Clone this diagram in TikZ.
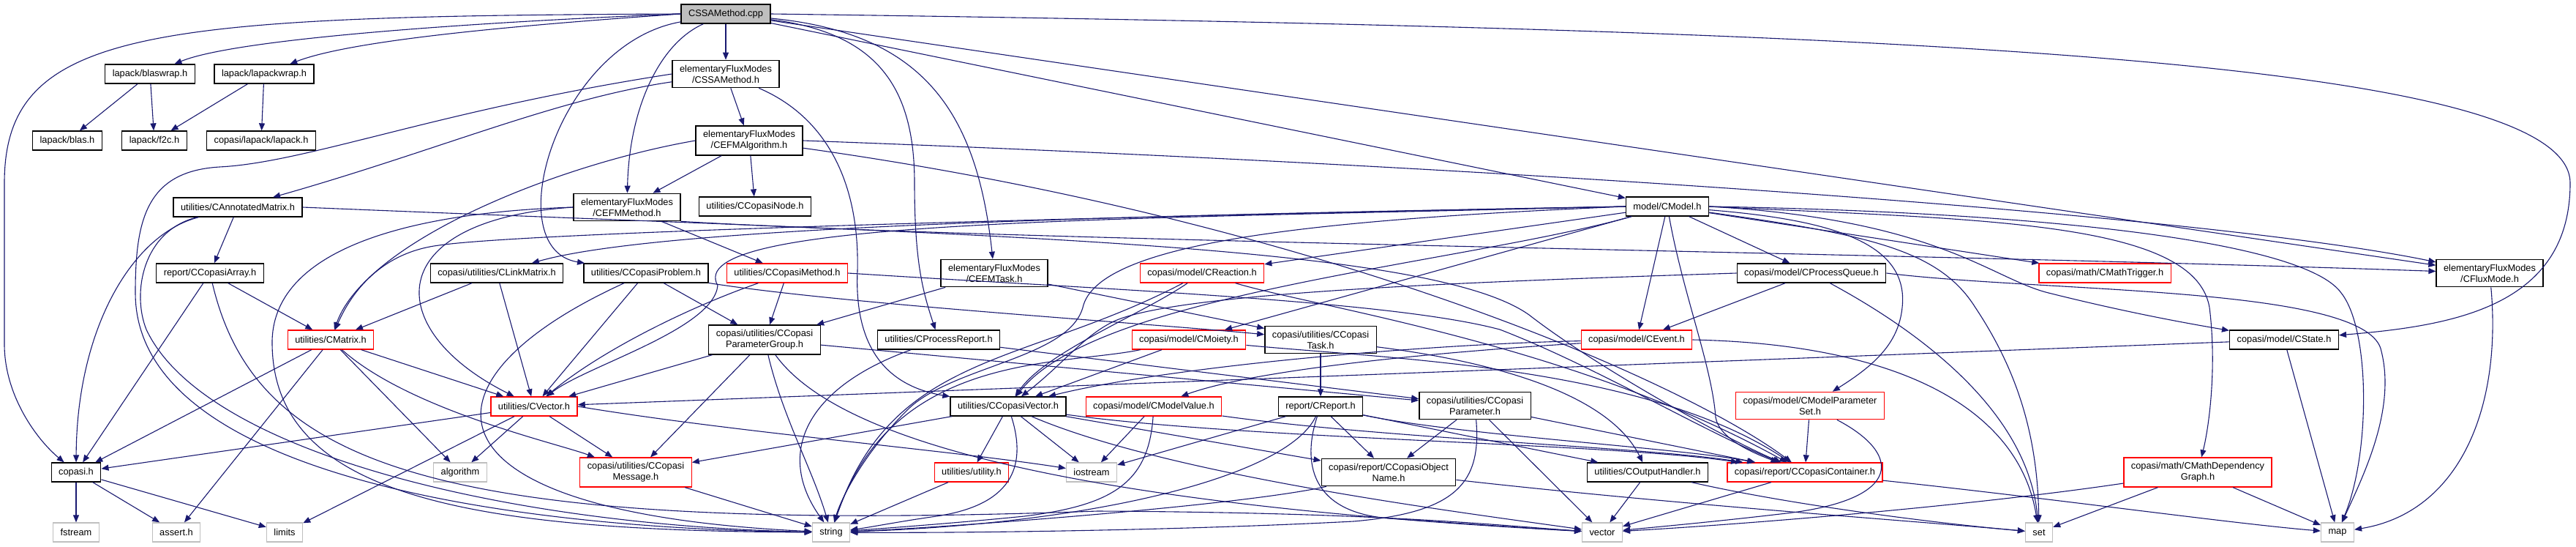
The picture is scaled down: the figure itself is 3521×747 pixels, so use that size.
\documentclass[tikz,border=0pt]{standalone}
\usepackage{fontspec}
\newfontfamily\graphfont{Liberation Sans}
\usepackage{tikz}
\usetikzlibrary{arrows.meta}
\definecolor{edgeblue}{HTML}{191970}
\definecolor{sysgray}{HTML}{BFBFBF}

\begin{document}
\begin{tikzpicture}[
    x=1pt, y=-1pt,
    hdr/.style={rectangle, draw=black, line width=1.3pt, fill=white, inner xsep=10pt, inner ysep=6.5pt, minimum height=26pt, align=center, font=\graphfont\fontsize{12.8pt}{15pt}\selectfont},
    trunc/.style={hdr, draw=red},
    sys/.style={hdr, draw=sysgray},
    root/.style={hdr, fill=sysgray},
    dep/.style={-{Triangle[length=10pt, width=8pt]}, draw=edgeblue, line width=1.1pt}
]
\useasboundingbox (0,0) rectangle (3521,747);

\node[root] (cpp) at (992,19) {CSSAMethod.cpp};
\node[hdr] (blaswrap) at (205,101) {lapack/blaswrap.h};
\node[hdr] (lapackwrap) at (361,101) {lapack/lapackwrap.h};
\node[hdr] (ssah) at (992,101) {elementaryFluxModes\\/CSSAMethod.h};
\node[hdr] (blas) at (92,192) {lapack/blas.h};
\node[hdr] (f2c) at (211,192) {lapack/f2c.h};
\node[hdr] (lapack) at (357,192) {copasi/lapack/lapack.h};
\node[hdr] (efmalg) at (1024,192) {elementaryFluxModes\\/CEFMAlgorithm.h};
\node[hdr] (annot) at (325,283) {utilities/CAnnotatedMatrix.h};
\node[hdr] (efmmethod) at (857,283) {elementaryFluxModes\\/CEFMMethod.h};
\node[hdr] (cnode) at (1032,282) {utilities/CCopasiNode.h};
\node[hdr] (cmodel) at (2279,282) {model/CModel.h};
\node[hdr] (carray) at (287,373) {report/CCopasiArray.h};
\node[hdr] (linkmat) at (679,373) {copasi/utilities/CLinkMatrix.h};
\node[hdr] (cproblem) at (883,373) {utilities/CCopasiProblem.h};
\node[trunc] (cmethod) at (1076,373) {utilities/CCopasiMethod.h};
\node[hdr] (efmtask) at (1359,373) {elementaryFluxModes\\/CEFMTask.h};
\node[trunc] (creaction) at (1643,373) {copasi/model/CReaction.h};
\node[hdr] (pqueue) at (2476,373) {copasi/model/CProcessQueue.h};
\node[trunc] (mtrigger) at (2877,373) {copasi/math/CMathTrigger.h};
\node[hdr] (fluxmode) at (3403,373) {elementaryFluxModes\\/CFluxMode.h};
\node[trunc] (cmatrix) at (452,464) {utilities/CMatrix.h};
\node[hdr] (pgroup) at (1045,464) {copasi/utilities/CCopasi\\ParameterGroup.h};
\node[hdr] (preport) at (1283,464) {utilities/CProcessReport.h};
\node[trunc] (moiety) at (1625,464) {copasi/model/CMoiety.h};
\node[hdr] (ctask) at (1805,464) {copasi/utilities/CCopasi\\Task.h};
\node[trunc] (cevent) at (2237,464) {copasi/model/CEvent.h};
\node[hdr] (cstate) at (3122,464) {copasi/model/CState.h};
\node[trunc] (cvector) at (730,555) {utilities/CVector.h};
\node[hdr] (ccvector) at (1378,555) {utilities/CCopasiVector.h};
\node[trunc] (mvalue) at (1577,555) {copasi/model/CModelValue.h};
\node[hdr] (creport) at (1805,555) {report/CReport.h};
\node[hdr] (cparam) at (2016,554) {copasi/utilities/CCopasi\\Parameter.h};
\node[trunc] (mpset) at (2474,554) {copasi/model/CModelParameter\\Set.h};
\node[hdr] (copasih) at (104,645) {copasi.h};
\node[sys] (algorithm) at (629,645) {algorithm};
\node[trunc] (message) at (869,645) {copasi/utilities/CCopasi\\Message.h};
\node[trunc] (utility) at (1328,645) {utilities/utility.h};
\node[sys] (iostream) at (1492,645) {iostream};
\node[hdr] (objname) at (1898,645) {copasi/report/CCopasiObject\\Name.h};
\node[hdr] (outhandler) at (2252,645) {utilities/COutputHandler.h};
\node[trunc] (container) at (2467,645) {copasi/report/CCopasiContainer.h};
\node[trunc] (depgraph) at (3004,645) {copasi/math/CMathDependency\\Graph.h};
\node[sys] (fstream) at (104,727) {fstream};
\node[sys] (asserth) at (241,727) {assert.h};
\node[sys] (limits) at (389,727) {limits};
\node[sys] (string) at (1136,727) {string};
\node[sys] (vector) at (2190,727) {vector};
\node[sys] (set) at (2787,727) {set};
\node[sys] (map) at (3195,727) {map};

\draw[dep] (cpp.west) .. controls (200,22) and (6,40) .. (6,250) -- (6,470) .. controls (6,540) and (50,600) .. (copasih);
\draw[dep] (cpp.west) .. controls (700,28) and (330,50) .. (blaswrap);
\draw[dep] (cpp.west) .. controls (700,35) and (480,55) .. (lapackwrap);
\draw[dep] (cpp) -- (ssah);
\draw[dep] (cpp) .. controls (900,60) and (860,150) .. (efmmethod);
\draw[dep] (cpp) .. controls (760,60) and (680,340) .. (cproblem);
\draw[dep] (cpp) .. controls (1200,45) and (1250,120) .. (1250,250) .. controls (1250,360) and (1262,400) .. (preport);
\draw[dep] (cpp) .. controls (1260,45) and (1335,150) .. (efmtask);
\draw[dep] (cpp) -- (cmodel);
\draw[dep] (cpp) -- (fluxmode);
\draw[dep] (cpp.east) .. controls (2600,40) and (3513,80) .. (3513,250) .. controls (3513,420) and (3350,445) .. (cstate);

\draw[dep] (blaswrap) -- (blas);
\draw[dep] (blaswrap) -- (f2c);
\draw[dep] (lapackwrap) -- (f2c);
\draw[dep] (lapackwrap) -- (lapack);

\draw[dep] (ssah) -- (efmalg);
\draw[dep] (ssah) .. controls (760,135) and (600,205) .. (annot);
\draw[dep] (ssah.west) .. controls (600,150) and (420,222) .. (300,228) .. controls (200,234) and (185,300) .. (185,400) .. controls (185,650) and (700,722) .. (string);
\draw[dep] (ssah) .. controls (1130,160) and (1175,250) .. (1172,370) .. controls (1168,460) and (1200,525) .. (ccvector);

\draw[dep] (efmalg) -- (efmmethod);
\draw[dep] (efmalg) -- (cnode);
\draw[dep] (efmalg.west) .. controls (760,225) and (500,330) .. (cmatrix);
\draw[dep] (efmalg.east) .. controls (2000,225) and (3000,290) .. (fluxmode);
\draw[dep] (efmalg) .. controls (1800,300) and (2300,520) .. (container);

\draw[dep] (efmmethod) -- (cmethod);
\draw[dep] (efmmethod.west) .. controls (520,300) and (520,450) .. (cvector);
\draw[dep] (efmmethod.west) .. controls (560,290) and (370,340) .. (372,470) .. controls (374,680) and (650,725) .. (string);
\draw[dep] (efmmethod.south east) .. controls (1400,330) and (2600,345) .. (fluxmode);

\draw[dep] (annot) .. controls (180,320) and (105,450) .. (copasih);
\draw[dep] (annot) -- (carray);
\draw[dep] (annot) .. controls (195,315) and (180,400) .. (200,450) .. controls (280,620) and (700,718) .. (string);
\draw[dep] (annot.east) .. controls (1300,320) and (1950,330) .. (2090,430) .. controls (2180,500) and (2360,600) .. (container);

\draw[dep] (carray) -- (copasih);
\draw[dep] (carray) -- (cmatrix);
\draw[dep] (carray) .. controls (350,640) and (600,730) .. (1500,698) .. controls (1900,700) and (2050,718) .. (vector);

\draw[dep] (cmatrix) -- (copasih);
\draw[dep] (cmatrix) -- (asserth);
\draw[dep] (cmatrix) -- (algorithm);
\draw[dep] (cmatrix) -- (cvector);
\draw[dep] (cmatrix) .. controls (560,560) and (760,605) .. (message);

\draw[dep] (linkmat) -- (cmatrix);
\draw[dep] (linkmat) -- (cvector);

\draw[dep] (cproblem) -- (pgroup);
\draw[dep] (cproblem) -- (cvector);
\draw[dep] (cproblem) .. controls (560,520) and (560,700) .. (string);
\draw[dep] (cproblem) .. controls (1150,415) and (1550,440) .. (ctask);

\draw[dep] (cmethod) -- (pgroup);
\draw[dep] (cmethod) .. controls (940,420) and (820,480) .. (cvector);
\draw[dep] (cmethod.east) .. controls (1500,395) and (1900,410) .. (2050,450) .. controls (2180,500) and (2330,590) .. (container);

\draw[dep] (efmtask) -- (pgroup);
\draw[dep] (efmtask) -- (ctask);

\draw[dep] (creaction) .. controls (1560,430) and (1430,480) .. (ccvector);
\draw[dep] (creaction) .. controls (1400,500) and (1220,480) .. (string);
\draw[dep] (creaction) .. controls (1800,420) and (2150,470) .. (container);

\draw[dep] (cmodel.west) .. controls (1500,295) and (900,310) .. (linkmat);
\draw[dep] (cmodel.west) .. controls (1300,300) and (700,320) .. (600,335) .. controls (520,345) and (480,400) .. (cmatrix);
\draw[dep] (cmodel.west) .. controls (1500,300) and (930,300) .. (981,390) .. controls (975,450) and (800,500) .. (cvector);
\draw[dep] (cmodel.west) .. controls (1800,300) and (1500,330) .. (1480,420) .. controls (1460,490) and (1300,500) .. (1240,560) .. controls (1180,620) and (1150,680) .. (string);
\draw[dep] (cmodel) -- (creaction);
\draw[dep] (cmodel) -- (moiety);
\draw[dep] (cmodel) .. controls (2000,360) and (1500,400) .. (ccvector);
\draw[dep] (cmodel) -- (pqueue);
\draw[dep] (cmodel) -- (cevent);
\draw[dep] (cmodel) -- (mtrigger);
\draw[dep] (cmodel) .. controls (2300,400) and (2340,500) .. (2345,570) .. controls (2350,600) and (2400,620) .. (container);
\draw[dep] (cmodel.east) .. controls (2650,300) and (2720,380) .. (2800,400) .. controls (2900,425) and (2980,440) .. (cstate);
\draw[dep] (cmodel.east) .. controls (2700,300) and (3000,300) .. (3020,420) .. controls (3030,500) and (3020,580) .. (depgraph);
\draw[dep] (cmodel) .. controls (2500,300) and (2610,330) .. (2600,420) .. controls (2595,470) and (2560,500) .. (mpset);
\draw[dep] (cmodel) .. controls (2550,320) and (2650,340) .. (2700,420) .. controls (2760,510) and (2785,600) .. (set);
\draw[dep] (cmodel.east) .. controls (2800,290) and (3150,330) .. (3200,400) .. controls (3240,450) and (3240,620) .. (map);

\draw[dep] (pqueue) -- (cevent);
\draw[dep] (pqueue.west) .. controls (2000,385) and (1600,400) .. (1520,440) .. controls (1480,460) and (1450,500) .. (ccvector);
\draw[dep] (pqueue) .. controls (2600,440) and (2770,550) .. (set);
\draw[dep] (pqueue.east) .. controls (2800,400) and (3240,390) .. (3255,480) .. controls (3275,560) and (3230,650) .. (map);

\draw[dep] (cevent) .. controls (1900,485) and (1700,510) .. (mvalue);
\draw[dep] (cevent) .. controls (1950,470) and (1600,500) .. (ccvector);
\draw[dep] (cevent.east) .. controls (2600,470) and (2760,560) .. (set);

\draw[dep] (moiety) -- (ccvector);
\draw[dep] (moiety) .. controls (1450,500) and (1220,480) .. (string);
\draw[dep] (moiety) .. controls (1900,490) and (2250,500) .. (container);

\draw[dep] (mvalue) -- (iostream);
\draw[dep] (mvalue) .. controls (1570,660) and (1520,690) .. (1400,705) .. controls (1300,715) and (1200,722) .. (string);
\draw[dep] (mvalue) .. controls (1900,600) and (2250,610) .. (container);

\draw[dep] (creport) -- (iostream);
\draw[dep] (creport) -- (objname);
\draw[dep] (creport) .. controls (2000,595) and (2300,612) .. (container);
\draw[dep] (creport) -- (outhandler);
\draw[dep] (creport) .. controls (1760,650) and (1500,715) .. (string);
\draw[dep] (creport) .. controls (1780,630) and (1790,700) .. (1900,708) .. controls (2000,715) and (2100,722) .. (vector);

\draw[dep] (ctask) -- (creport);
\draw[dep] (ctask) .. controls (2050,495) and (2200,540) .. (outhandler);

\draw[dep] (pgroup) -- (cparam);
\draw[dep] (pgroup) -- (message);
\draw[dep] (pgroup) -- (cvector);
\draw[dep] (pgroup) .. controls (1070,570) and (1110,640) .. (string);
\draw[dep] (pgroup) .. controls (1150,610) and (1500,690) .. (vector);

\draw[dep] (preport) .. controls (1100,530) and (1060,620) .. (string);
\draw[dep] (preport) -- (cparam);

\draw[dep] (cparam) -- (objname);
\draw[dep] (cparam) -- (container);
\draw[dep] (cparam) -- (vector);
\draw[dep] (cparam) .. controls (2025,660) and (1990,700) .. (1850,712) .. controls (1600,725) and (1300,728) .. (string);

\draw[dep] (mpset) -- (container);
\draw[dep] (mpset) .. controls (2600,620) and (2600,680) .. (2450,700) .. controls (2350,712) and (2260,720) .. (vector);

\draw[dep] (objname) .. controls (1700,690) and (1300,720) .. (string);
\draw[dep] (objname) .. controls (2300,690) and (2600,710) .. (set);

\draw[dep] (outhandler) -- (vector);
\draw[dep] (outhandler) .. controls (2450,690) and (2650,715) .. (set);

\draw[dep] (container) -- (vector);
\draw[dep] (container) .. controls (2800,680) and (3050,715) .. (map);

\draw[dep] (depgraph) -- (set);
\draw[dep] (depgraph) -- (map);
\draw[dep] (depgraph) .. controls (2700,690) and (2400,715) .. (vector);

\draw[dep] (cstate) -- (cvector);
\draw[dep] (cstate) -- (map);

\draw[dep] (fluxmode) .. controls (3420,560) and (3360,700) .. (map);

\draw[dep] (cvector) -- (copasih);
\draw[dep] (cvector) -- (algorithm);
\draw[dep] (cvector) -- (limits);
\draw[dep] (cvector) -- (message);
\draw[dep] (cvector.east) .. controls (1000,590) and (1300,615) .. (iostream);

\draw[dep] (ccvector) -- (message);
\draw[dep] (ccvector) -- (utility);
\draw[dep] (ccvector) -- (iostream);
\draw[dep] (ccvector) -- (objname);
\draw[dep] (ccvector) .. controls (1700,600) and (2200,605) .. (container);
\draw[dep] (ccvector) .. controls (1405,640) and (1380,690) .. (1280,705) .. controls (1230,712) and (1190,720) .. (string);
\draw[dep] (ccvector) .. controls (1600,650) and (2000,700) .. (vector);

\draw[dep] (utility) -- (string);
\draw[dep] (message) -- (string);

\draw[dep] (copasih) -- (fstream);
\draw[dep] (copasih) -- (asserth);
\draw[dep] (copasih) -- (limits);

\end{tikzpicture}
\end{document}
